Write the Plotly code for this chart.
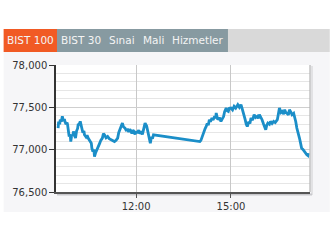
import plotly.graph_objects as go

DAY = "2024-01-02 "
times = ["09:32", "09:33", "09:35", "09:36", "09:38", "09:40", "09:42", "09:44", "09:45",
         "09:47", "09:49", "09:50", "09:52", "09:53", "09:55", "09:56", "09:58", "10:00",
         "10:01", "10:03", "10:05", "10:07", "10:09", "10:10", "10:12", "10:14", "10:16",
         "10:17", "10:19", "10:21", "10:22", "10:25", "10:27", "10:29", "10:32", "10:35",
         "10:36", "10:38", "10:40", "10:41", "10:43", "10:46", "10:48", "10:51", "10:53",
         "10:56", "10:58", "11:00", "11:03", "11:06", "11:09", "11:13", "11:16", "11:19",
         "11:22", "11:25", "11:27", "11:30", "11:32", "11:34", "11:36", "11:39", "11:41",
         "11:44", "11:46", "11:48", "11:50", "11:52", "11:54", "11:56", "11:58", "12:00",
         "12:02", "12:05", "12:07", "12:10", "12:12", "12:14", "12:16", "12:17", "12:20",
         "12:23", "12:25", "12:27", "12:29", "12:31", "12:33",
         "14:01", "14:03", "14:05", "14:07", "14:09", "14:11", "14:13", "14:15", "14:17",
         "14:19", "14:21", "14:24", "14:26", "14:29", "14:31", "14:32", "14:34", "14:35",
         "14:38", "14:41", "14:44", "14:46", "14:48", "14:51", "14:53", "14:55", "14:57",
         "15:00", "15:03", "15:06", "15:09", "15:13", "15:16", "15:19", "15:21", "15:23",
         "15:25", "15:27", "15:29", "15:31", "15:34", "15:36", "15:38", "15:41", "15:44",
         "15:47", "15:50", "15:52", "15:54", "15:57", "15:59", "16:02", "16:04", "16:06",
         "16:08", "16:10", "16:13", "16:15", "16:18", "16:21", "16:24", "16:28", "16:30",
         "16:32", "16:35", "16:37", "16:40", "16:42", "16:44", "16:46", "16:49", "16:51",
         "16:54", "16:56", "16:59", "17:01", "17:03", "17:05", "17:08", "17:10", "17:12",
         "17:14", "17:17", "17:19", "17:22", "17:24", "17:26", "17:27"]
values = [77255, 77330, 77300, 77354, 77330, 77393, 77340, 77360, 77333,
          77300, 77320, 77294, 77200, 77156, 77180, 77096, 77180, 77160,
          77215, 77180, 77137, 77220, 77250, 77294, 77300, 77334, 77280,
          77235, 77200, 77220, 77176, 77150, 77170, 77137, 77100, 77077,
          77020, 76978, 77000, 76918, 76960, 76998, 77040, 77077, 77110,
          77137, 77190, 77176, 77140, 77156, 77130, 77117, 77110, 77096,
          77110, 77137, 77200, 77255, 77280, 77314, 77270, 77255, 77230,
          77235, 77210, 77240, 77223, 77190, 77230, 77215, 77180, 77220,
          77196, 77230, 77190, 77215, 77180, 77250, 77290, 77314, 77280,
          77200, 77120, 77077, 77150, 77130, 77176,
          77096, 77110, 77150, 77176, 77220, 77250, 77274, 77310, 77290,
          77354, 77330, 77374, 77350, 77393, 77370, 77433, 77380, 77354,
          77380, 77334, 77370, 77393, 77450, 77492, 77460, 77452, 77490,
          77492, 77470, 77511, 77490, 77531, 77500, 77531, 77490, 77452,
          77400, 77354, 77300, 77274, 77330, 77310, 77374, 77350, 77413,
          77380, 77393, 77370, 77413, 77380, 77354, 77300, 77260, 77235,
          77290, 77314, 77300, 77334, 77310, 77334, 77320, 77354, 77420,
          77492, 77440, 77452, 77420, 77472, 77440, 77433, 77410, 77472,
          77440, 77413, 77430, 77393, 77330, 77255, 77200, 77137, 77080,
          77018, 77000, 76978, 76950, 76939, 76930, 76959]
tabs = ["BIST 100", "BIST 30", "Sınai", "Mali", "Hizmetler"]
x_ticks = ["12:00", "15:00"]
y_range = [76500, 78000]
x_range = ["09:28", "17:30"]

W, H = 330, 247
ML, MR, MT, MB = 53, 20, 65, 55
PW, PH = W - ML - MR, H - MT - MB

def px(x):
    return (x - ML) / PW

def py(y):
    return (H - MB - y) / PH

fig = go.Figure()
fig.add_trace(go.Scatter(
    x=[DAY + t for t in times], y=values, mode="lines",
    line=dict(color="#1b8ec8", width=2.8), hoverinfo="skip"))

shapes = []
# light background band
shapes.append(dict(type="rect", xref="paper", yref="paper", x0=px(0), x1=px(W),
                   y0=py(212), y1=py(52), fillcolor="#f6f6f8", line_width=0, layer="below"))
# plot area white
shapes.append(dict(type="rect", xref="paper", yref="paper", x0=0, x1=1, y0=0, y1=1,
                   fillcolor="white", line_width=0, layer="below"))
# shadow right / bottom
shapes.append(dict(type="line", xref="paper", yref="paper", x0=px(312), x1=px(312),
                   y0=py(195), y1=py(66), line=dict(color="#e2e2e4", width=2), layer="below"))
shapes.append(dict(type="line", xref="paper", yref="paper", x0=px(54), x1=px(312),
                   y0=py(194.5), y1=py(194.5), line=dict(color="#c8c8cc", width=2), layer="below"))
shapes.append(dict(type="line", xref="paper", yref="paper", x0=1, x1=1, y0=0, y1=1,
                   line=dict(color="#b4b4b4", width=1.2), layer="above"))
# tab bar
tab_bounds = [(0, 54), (54, 103), (103, 136), (136, 167), (167, 227)]
shapes.append(dict(type="rect", xref="paper", yref="paper", x0=px(227), x1=px(W),
                   y0=py(52), y1=py(29), fillcolor="#d9d9d9", line_width=0, layer="below"))
shapes.append(dict(type="rect", xref="paper", yref="paper", x0=px(54), x1=px(227),
                   y0=py(52), y1=py(29), fillcolor="#879aa1", line_width=0, layer="below"))
shapes.append(dict(type="rect", xref="paper", yref="paper", x0=px(0), x1=px(54),
                   y0=py(52), y1=py(29), fillcolor="#f15a24", line_width=0, layer="below"))

annotations = []
for label, (a, b) in zip(tabs, tab_bounds):
    annotations.append(dict(text=label, xref="paper", yref="paper", x=px((a + b) / 2),
                            y=py(40.5), showarrow=False, xanchor="center", yanchor="middle",
                            font=dict(family="DejaVu Sans", size=10.5, color="#f4f4f4")))

fig.update_layout(
    width=W, height=H, margin=dict(l=ML, r=MR, t=MT, b=MB),
    paper_bgcolor="white", plot_bgcolor="white", showlegend=False,
    shapes=shapes, annotations=annotations,
    xaxis=dict(type="date", range=[DAY + x_range[0], DAY + x_range[1]],
               tickvals=[DAY + t for t in x_ticks], ticktext=x_ticks,
               showgrid=True, gridcolor="#c8c8c8", gridwidth=1,
               showline=True, linecolor="#555555", linewidth=1.5,
               ticks="outside", ticklen=4, tickcolor="#555555",
               tickfont=dict(family="DejaVu Sans", size=10, color="#333333"), fixedrange=True),
    yaxis=dict(range=y_range, dtick=500, tick0=76500, tickformat=",d",
               showgrid=True, gridcolor="#cfcfcf", gridwidth=1,
               minor=dict(dtick=100, showgrid=True, gridcolor="#e6e6e6", gridwidth=1),
               showline=True, linecolor="#333333", linewidth=1.5,
               ticks="outside", ticklen=5, tickcolor="#333333",
               tickfont=dict(family="DejaVu Sans", size=10, color="#333333"), fixedrange=True,
               zeroline=False),
)

fig.write_html("out.html", config={"displayModeBar": False})
